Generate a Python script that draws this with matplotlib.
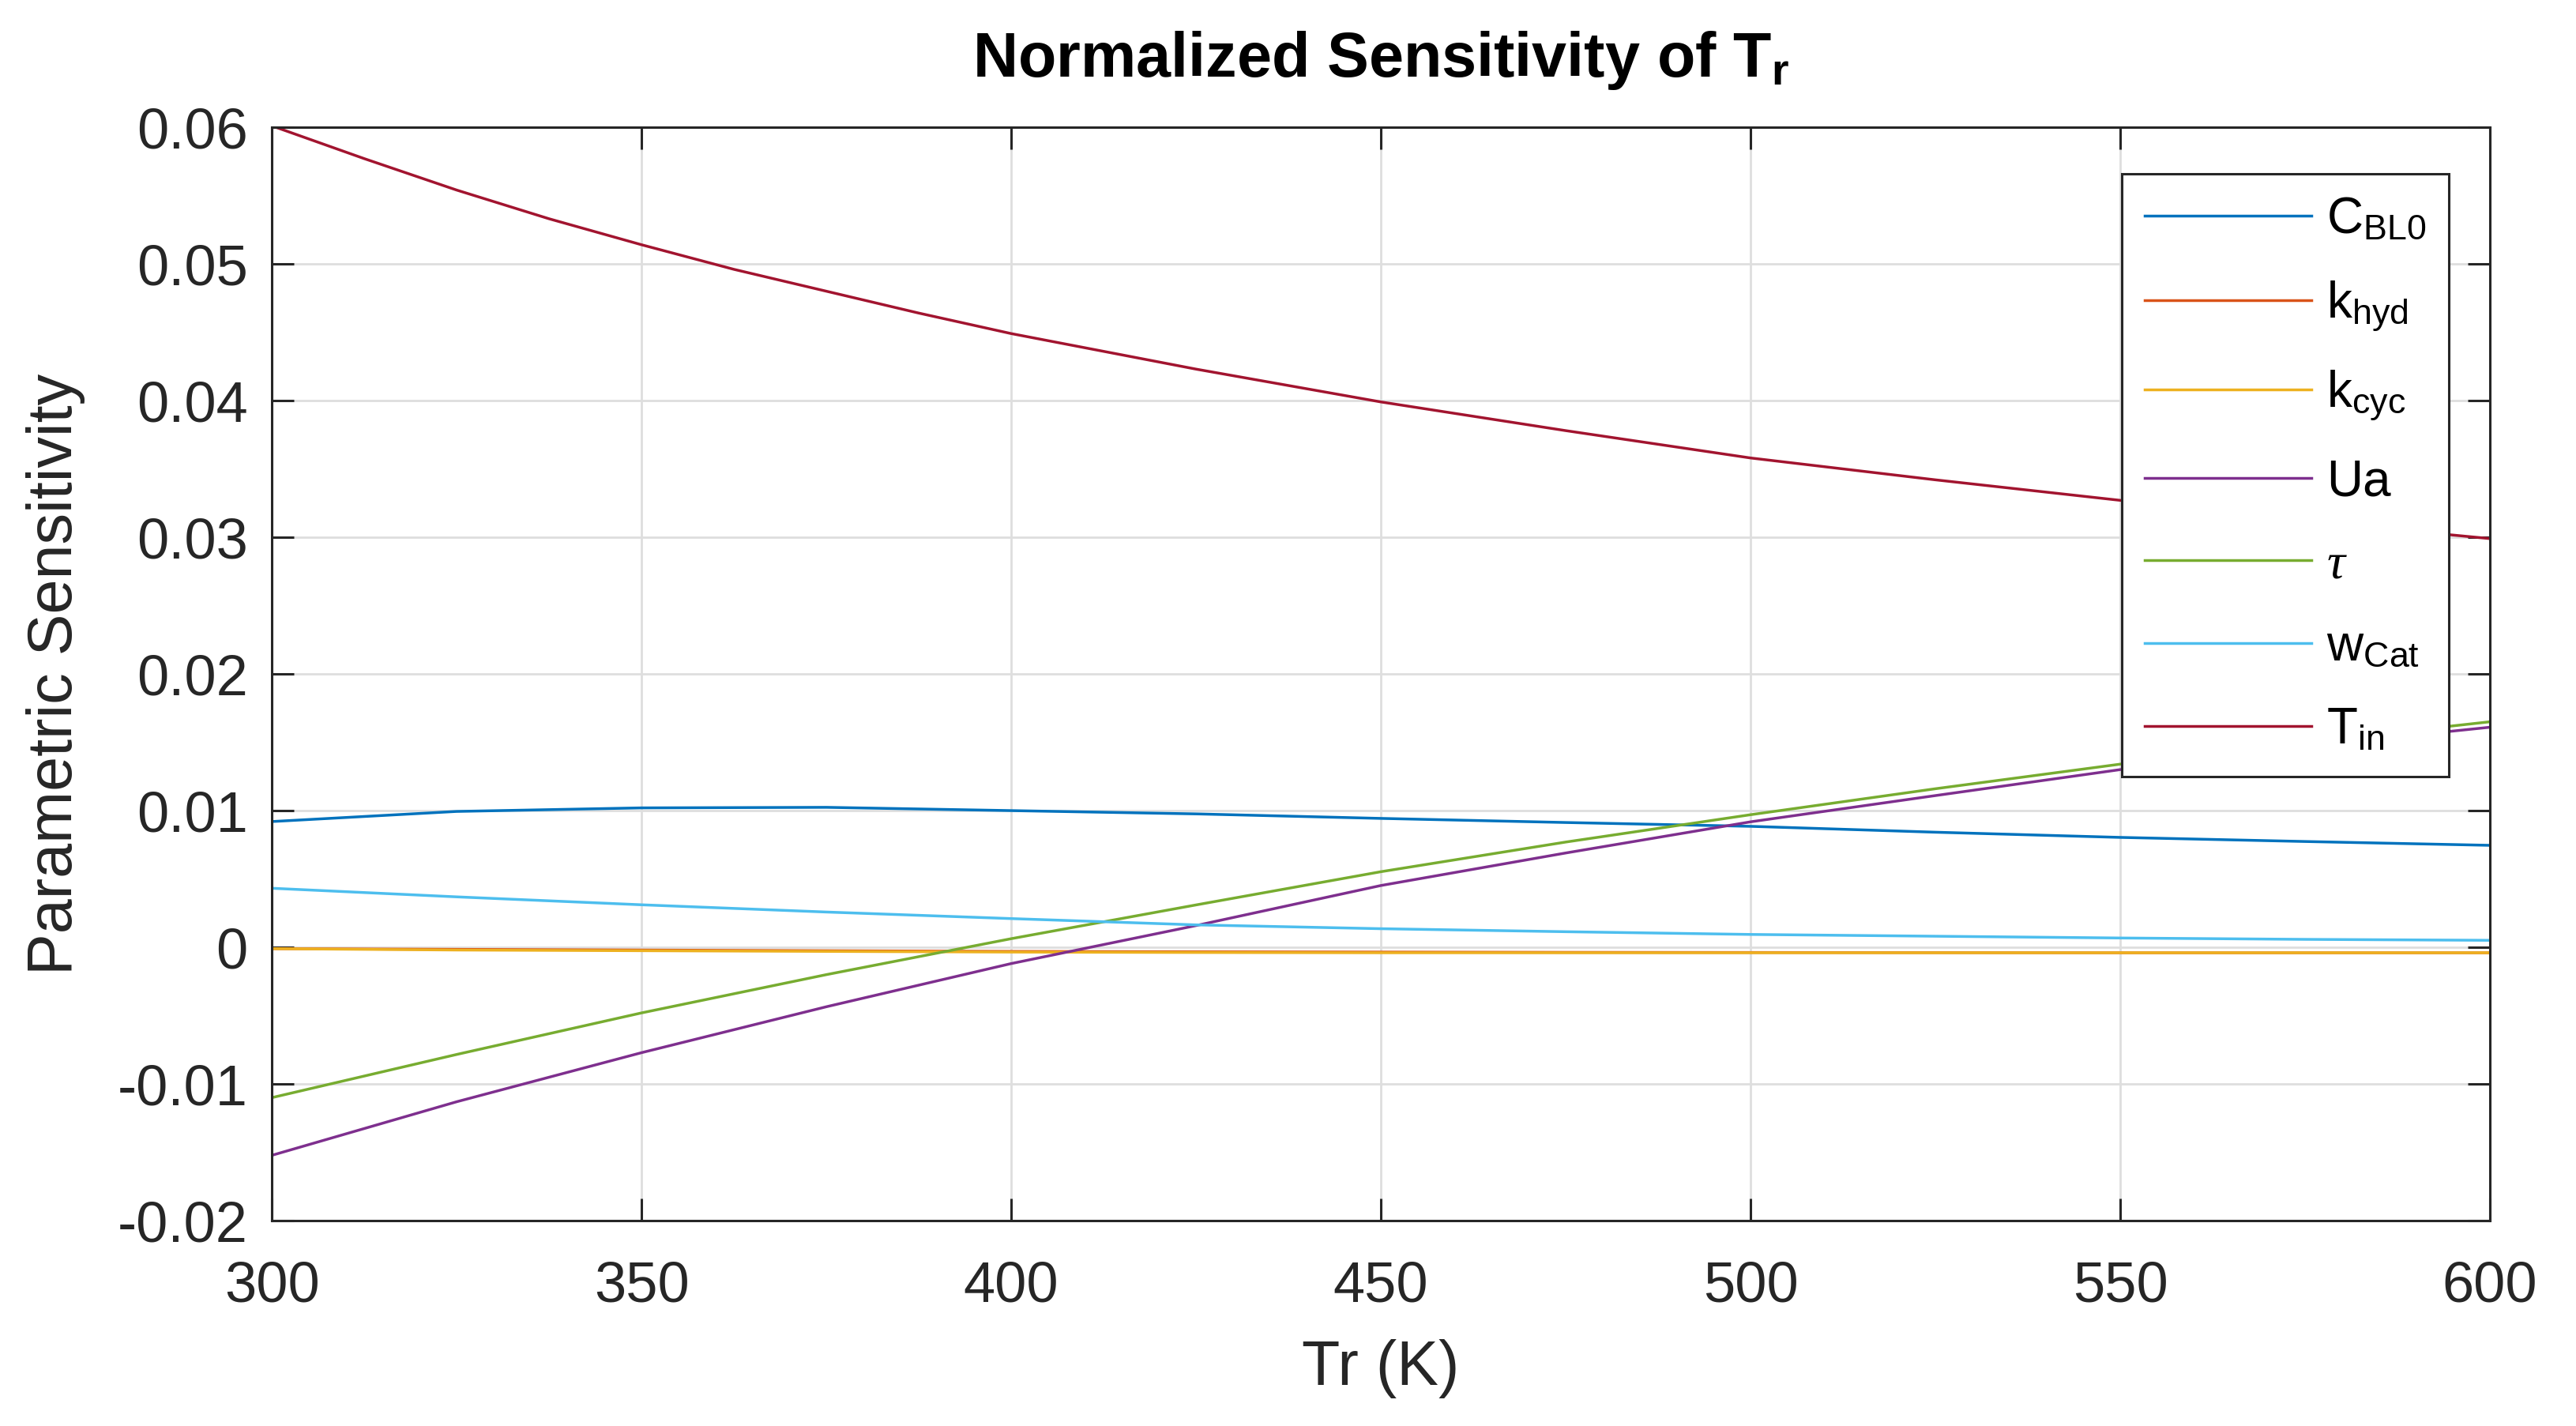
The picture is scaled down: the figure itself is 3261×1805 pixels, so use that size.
import matplotlib
matplotlib.use("Agg")
import matplotlib.pyplot as plt

# Data (Tr in K)
tr = [300, 325, 350, 375, 400, 425, 450, 475, 500, 525, 550, 575, 600]
# T_in is strongly curved at low Tr, so it was read at a finer step
tr_fine = [300, 312.5, 325, 337.5, 350, 362.5, 375, 387.5, 400, 425, 450, 475, 500, 525, 550, 575, 600]

cbl0 = [0.0092, 0.00994, 0.0102, 0.01024, 0.0100, 0.00976, 0.00943, 0.00913, 0.00885, 0.00842, 0.00804, 0.00774, 0.00746]
khyd = [-0.0001, -0.00015, -0.0002, -0.00025, -0.0003, -0.00033, -0.00035, -0.00037, -0.00038, -0.00039, -0.0004, -0.0004, -0.0004]
kcyc = [-0.0001, -0.0002, -0.00025, -0.0003, -0.00035, -0.00038, -0.0004, -0.0004, -0.0004, -0.0004, -0.0004, -0.0004, -0.0004]
ua = [-0.01522, -0.0113, -0.00771, -0.00435, -0.00119, 0.00159, 0.00452, 0.0069, 0.00918, 0.0111, 0.0130, 0.0147, 0.0161]
tau = [-0.0110, -0.00784, -0.0048, -0.0020, 0.00063, 0.0031, 0.00553, 0.0077, 0.0097, 0.0116, 0.0134, 0.0150, 0.0165]
wcat = [0.00432, 0.00369, 0.00311, 0.00258, 0.0021, 0.00164, 0.00136, 0.00114, 0.00094, 0.00081, 0.00068, 0.00058, 0.00051]
tin = [0.0601, 0.0577, 0.0554, 0.0533, 0.0514, 0.0496, 0.0480, 0.0464, 0.0449, 0.0423, 0.0399, 0.0378, 0.0358, 0.0342, 0.0327, 0.0312, 0.0299]

series = [(tr, cbl0), (tr, khyd), (tr, kcyc), (tr, ua), (tr, tau), (tr, wcat), (tr_fine, tin)]
labels = [r"C$_{\mathrm{BL0}}$", r"k$_{\mathrm{hyd}}$", r"k$_{\mathrm{cyc}}$", "Ua",
          r"$\tau$", r"w$_{\mathrm{Cat}}$", r"T$_{\mathrm{in}}$"]
colors = ["#0072BD", "#D95319", "#EDB120", "#7E2F8E", "#77AC30", "#4DBEEE", "#A2142F"]

xticks = [300, 350, 400, 450, 500, 550, 600]
yticks = [-0.02, -0.01, 0, 0.01, 0.02, 0.03, 0.04, 0.05, 0.06]
yticklabels = ["-0.02", "-0.01", "0", "0.01", "0.02", "0.03", "0.04", "0.05", "0.06"]

plt.rcParams["font.family"] = ["Liberation Sans", "DejaVu Sans"]
plt.rcParams["mathtext.fontset"] = "custom"
plt.rcParams["mathtext.rm"] = "Liberation Sans"
plt.rcParams["mathtext.it"] = "Liberation Serif:italic"
plt.rcParams["mathtext.bf"] = "Liberation Sans:bold"
plt.rcParams["axes.unicode_minus"] = False

dark = "#262626"

fig = plt.figure(figsize=(16.31, 9.025), dpi=200)
ax = fig.add_axes([0.1055, 0.1440, 0.8608, 0.7668])

for (xs, vals), lab, col in zip(series, labels, colors):
    ax.plot(xs, vals, color=col, linewidth=1.25, label=lab)

ax.set_xlim(300, 600)
ax.set_ylim(-0.02, 0.06)
ax.set_xticks(xticks)
ax.set_yticks(yticks)
ax.set_yticklabels(yticklabels)

ax.grid(True, color="#DEDEDE", linewidth=1.0)
ax.set_axisbelow(True)
for sp in ax.spines.values():
    sp.set_color(dark)
    sp.set_linewidth(1.1)
ax.tick_params(direction="in", length=10, width=1.1, color=dark, labelcolor=dark,
               labelsize=26, top=True, right=True)
ax.tick_params(axis="x", pad=18)
ax.tick_params(axis="y", pad=11)

ax.set_xlabel("Tr (K)", fontsize=28.5, color=dark)
ax.set_ylabel("Parametric Sensitivity", fontsize=28.5, color=dark)
ax.xaxis.set_label_coords(0.5, -0.108)
ax.yaxis.set_label_coords(-0.084, 0.5)
ax.set_title(r"Normalized Sensitivity of T$_{\mathbf{r}}$", fontsize=28.5,
             fontweight="bold", pad=23)

leg = ax.legend(loc="upper right", bbox_to_anchor=(0.9815, 0.9574), borderaxespad=0,
                fontsize=23, handlelength=3.3, handletextpad=0.3, borderpad=0.45,
                labelspacing=0.70, fancybox=False, framealpha=1)
leg.get_frame().set_edgecolor(dark)
leg.get_frame().set_linewidth(1.1)

fig.savefig("out.png", dpi=200)
